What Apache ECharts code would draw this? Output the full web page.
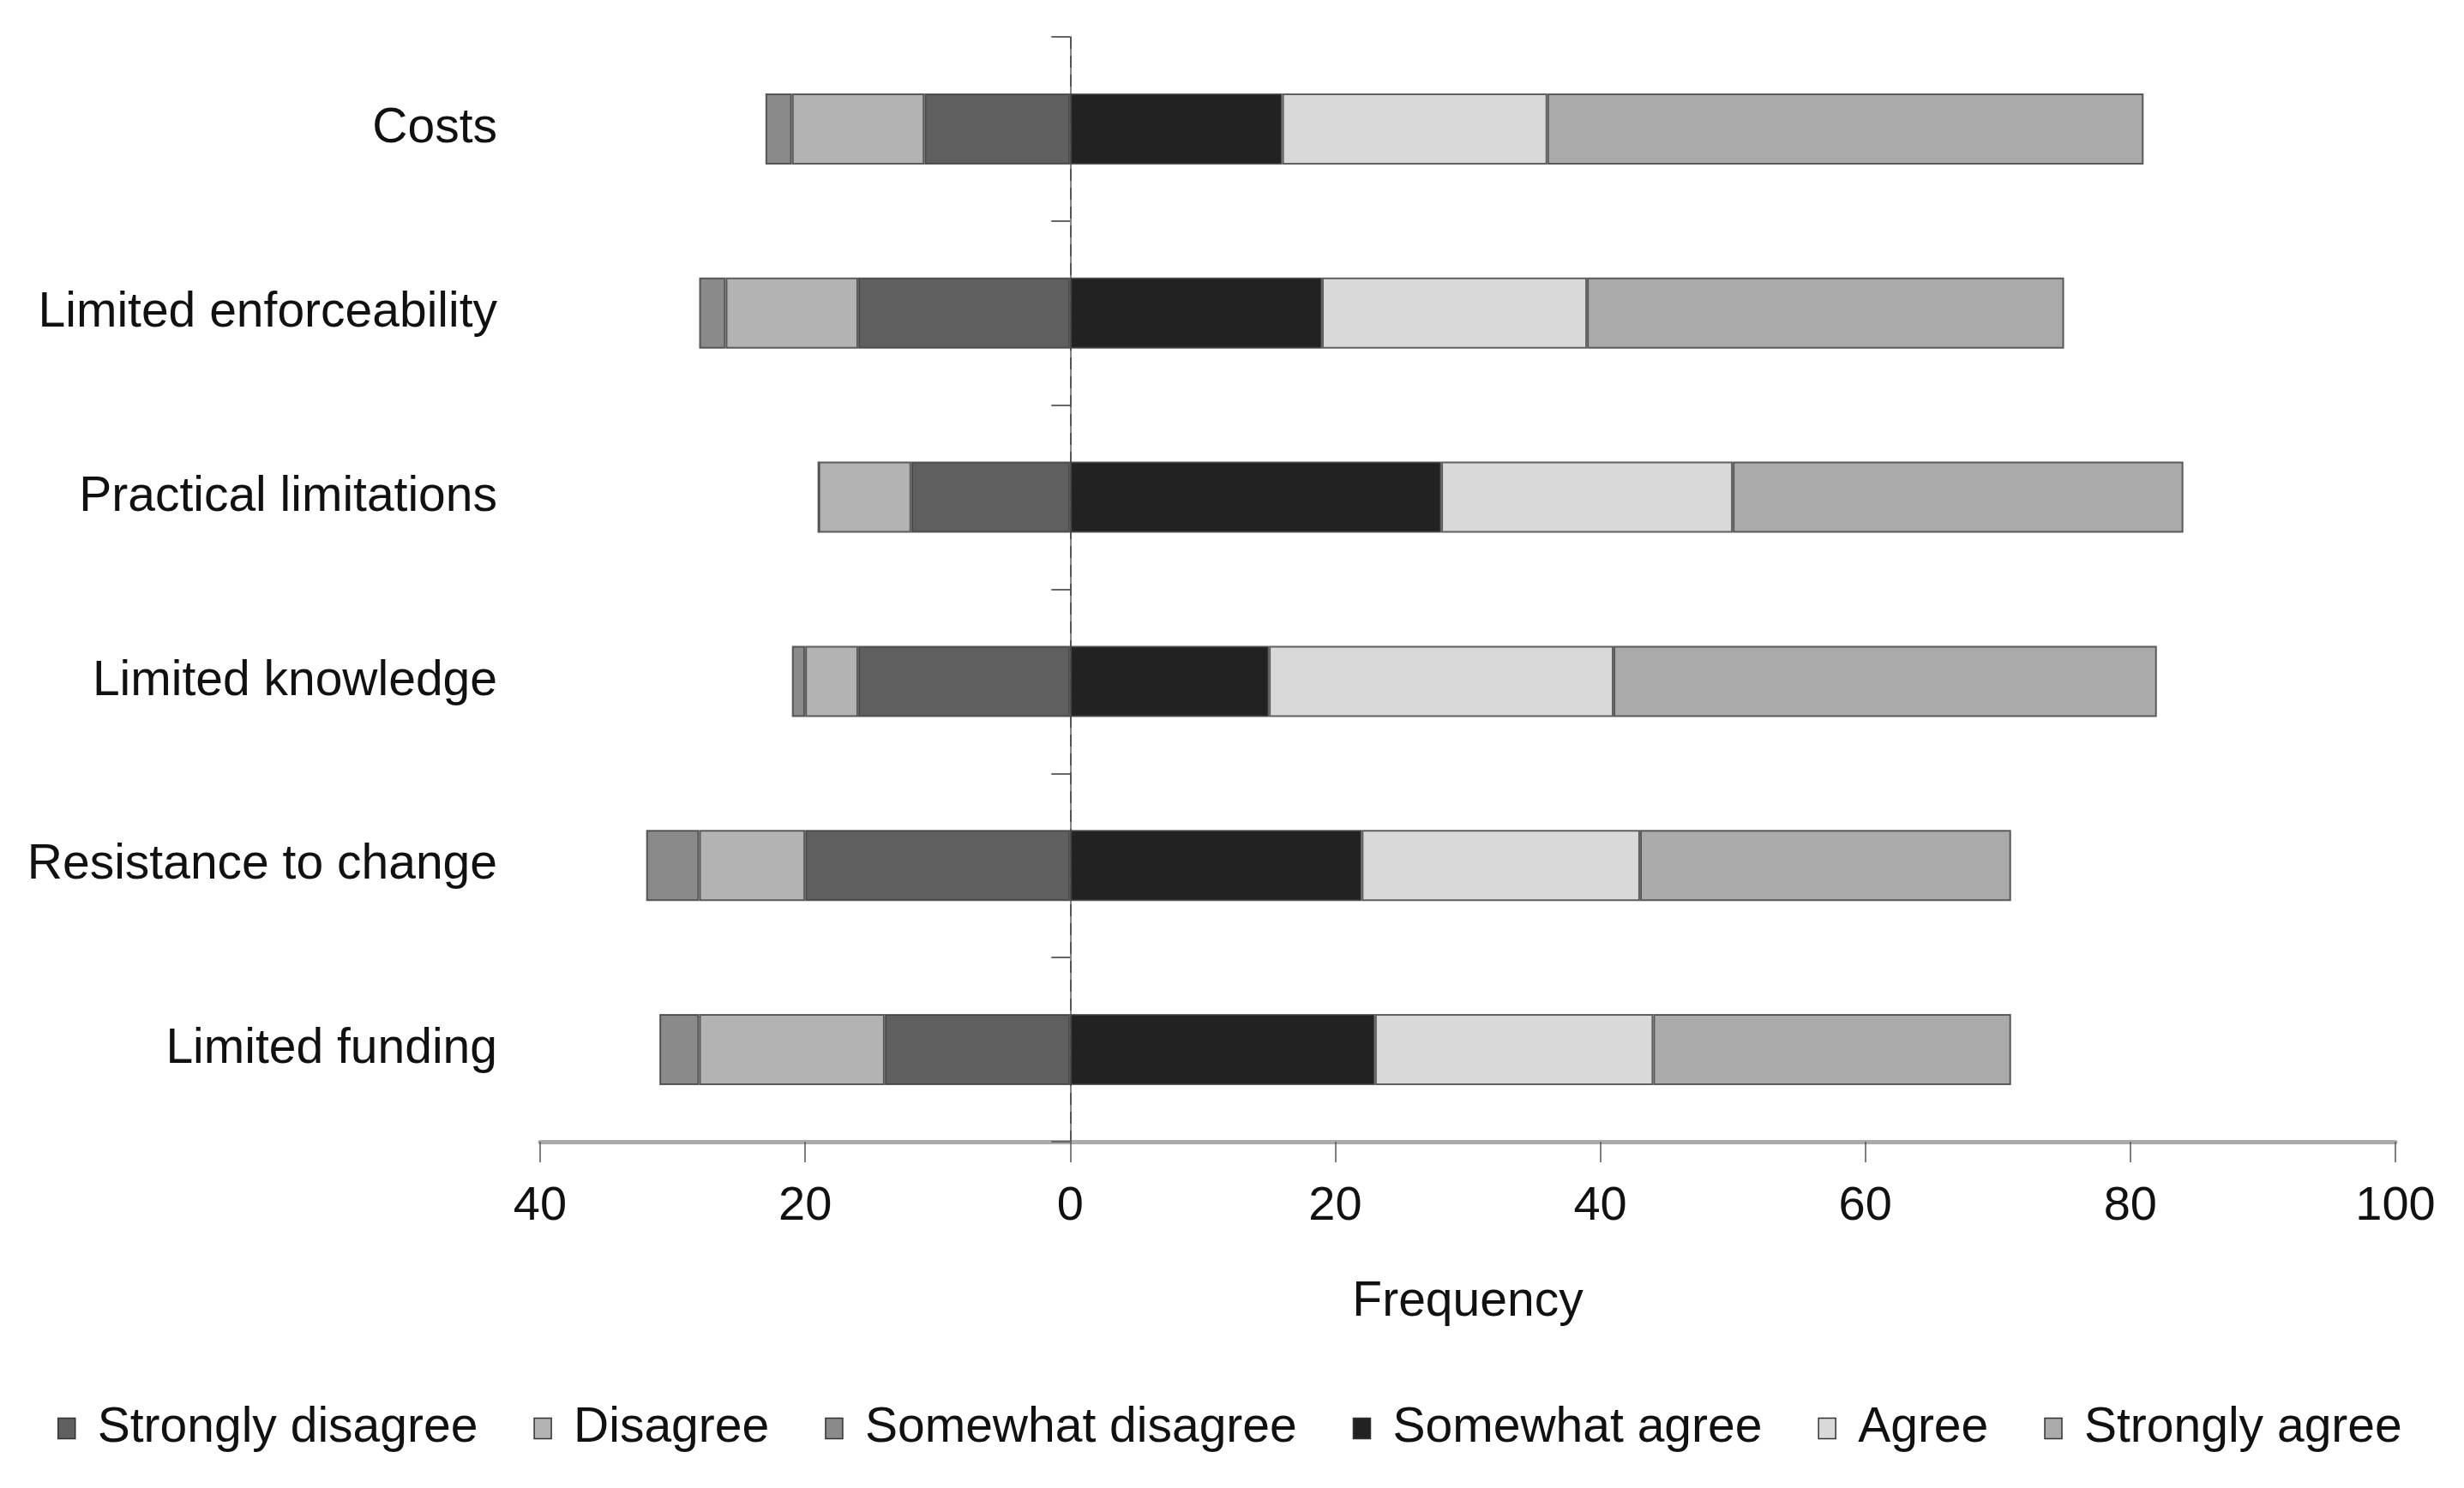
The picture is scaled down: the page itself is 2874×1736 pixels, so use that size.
<!DOCTYPE html>
<html>
<head>
<meta charset="utf-8">
<script src="https://cdn.jsdelivr.net/npm/echarts@6/dist/echarts.min.js"></script>
<style>
html,body{margin:0;padding:0;background:#fff;}
#chart{width:2874px;height:1736px;}
</style>
</head>
<body>
<div id="chart"></div>
<script>
var categories = ['Costs', 'Limited enforceability', 'Practical limitations', 'Limited knowledge', 'Resistance to change', 'Limited funding'];
var seriesNames = ['Strongly disagree', 'Disagree', 'Somewhat disagree', 'Somewhat agree', 'Agree', 'Strongly agree'];
// disagreement counts (drawn to the left of zero)
var stronglyDisagree = [11, 16, 12, 16, 20, 14];
var disagree = [10, 10, 7, 4, 8, 14];
var somewhatDisagree = [2, 2, 0, 1, 4, 3];
// agreement counts (drawn to the right of zero)
var somewhatAgree = [16, 19, 28, 15, 22, 23];
var agree = [20, 20, 22, 26, 21, 21];
var stronglyAgree = [45, 36, 34, 41, 28, 27];
var xTicks = [-40, -20, 0, 20, 40, 60, 80, 100];
var colors = ['#5f5f5f', '#b3b3b3', '#8a8a8a', '#222222', '#d9d9d9', '#aaaaaa'];

var FONT = "'Liberation Sans', Arial, sans-serif";
var values = [
  stronglyDisagree.map(function (v) { return -v; }),
  disagree.map(function (v) { return -v; }),
  somewhatDisagree.map(function (v) { return -v; }),
  somewhatAgree, agree, stronglyAgree
];

var series = seriesNames.map(function (name, i) {
  var s = {
    name: name,
    type: 'bar',
    stack: 'total',
    barWidth: 83,
    data: values[i],
    itemStyle: { color: colors[i], borderColor: 'rgba(60,60,60,0.8)', borderWidth: 2 },
    emphasis: { disabled: true }
  };
  if (i === 0) {
    s.markLine = {
      silent: true,
      symbol: ['none', 'none'],
      label: { show: false },
      lineStyle: { type: [14, 8], color: '#444', width: 1.5 },
      data: [{ xAxis: 0 }]
    };
  }
  return s;
});

var chart = echarts.init(document.getElementById('chart'));
chart.setOption({
  animation: false,
  color: colors,
  textStyle: { fontFamily: FONT },
  grid: { left: 630, right: 80, top: 43, bottom: 404, containLabel: false },
  legend: {
    data: seriesNames,
    left: 62,
    top: 1633,
    itemWidth: 20,
    itemHeight: 24,
    itemGap: 65,
    icon: 'rect',
    itemStyle: { borderColor: '#333', borderWidth: 1.5 },
    textStyle: { fontSize: 57, color: '#111', fontFamily: FONT, padding: [0, 0, 0, 21] }
  },
  xAxis: {
    type: 'value',
    min: xTicks[0],
    max: xTicks[xTicks.length - 1],
    interval: 20,
    name: 'Frequency',
    nameLocation: 'middle',
    nameGap: 159,
    nameTextStyle: { fontSize: 57, color: '#111', fontFamily: FONT },
    axisLine: { show: true, lineStyle: { color: '#aaaaaa', width: 5 } },
    axisTick: { show: true, length: 24, lineStyle: { color: '#555', width: 1.5 } },
    axisLabel: {
      fontSize: 56, color: '#111', margin: 48, fontFamily: FONT,
      formatter: function (v) { return String(Math.abs(v)); }
    },
    splitLine: { show: false }
  },
  yAxis: {
    type: 'category',
    data: categories,
    inverse: true,
    axisLine: { show: true, lineStyle: { color: '#888', width: 2 } },
    axisTick: { show: true, length: 22, lineStyle: { color: '#666', width: 2 } },
    axisLabel: { fontSize: 57, color: '#111', margin: 50, fontFamily: FONT },
    splitLine: { show: false }
  },
  series: series
});
</script>
</body>
</html>
